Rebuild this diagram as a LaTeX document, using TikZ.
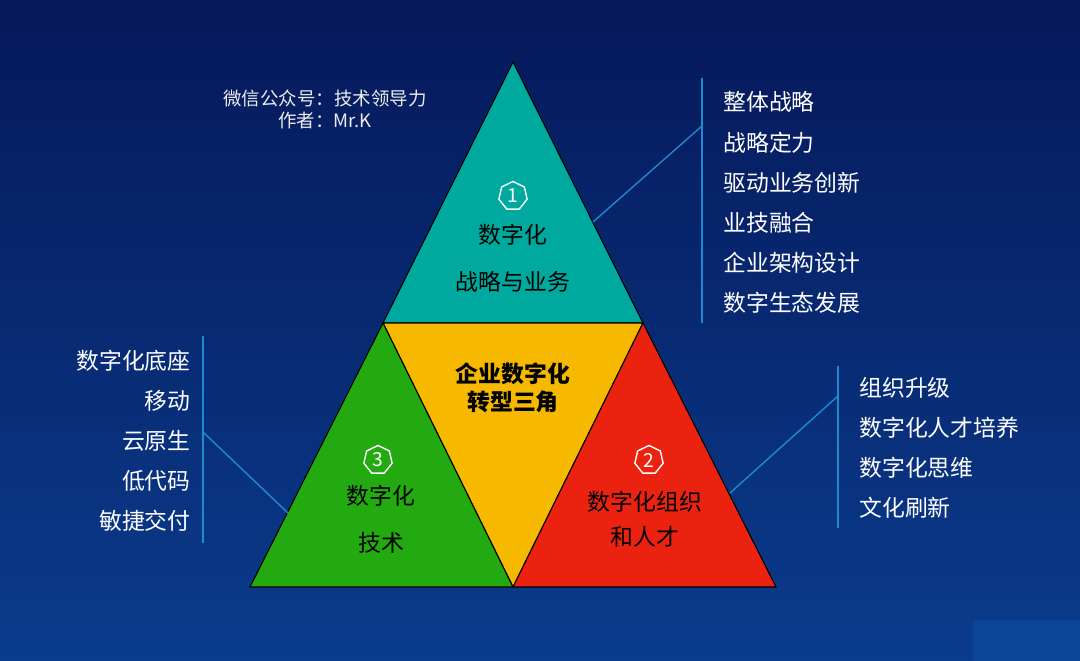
\documentclass[tikz,border=0pt]{standalone}
\usepackage{fontspec}
\newfontfamily\cjk{Noto Sans CJK SC}
\usetikzlibrary{shapes.geometric}
\definecolor{bgtop}{HTML}{06185A}
\definecolor{bgbot}{HTML}{0A3C8C}
\definecolor{teal}{HTML}{00A99D}
\definecolor{yel}{HTML}{F6B900}
\definecolor{grn}{HTML}{22AA10}
\definecolor{rd}{HTML}{EC2210}
\definecolor{ln}{HTML}{1E88D0}
\definecolor{patch}{HTML}{0C4596}
\tikzset{
 tri/.style={draw=black,line width=0.6pt},
 lbl/.style={font=\cjk\fontsize{13}{15}\selectfont,text=white,inner sep=0pt},
 inl/.style={font=\cjk\fontsize{13}{15}\selectfont,text=black,inner sep=0pt},
 num/.style={regular polygon,regular polygon sides=7,draw=white,line width=0.8pt,minimum size=0.58cm,inner sep=0pt,text=white,font=\cjk\fontsize{11}{11}\selectfont},
 conn/.style={draw=ln,line width=0.8pt},
 hdr/.style={font=\cjk\fontsize{10.5}{12}\selectfont,text=white!85!gray,inner sep=0pt}
}
\begin{document}
\begin{tikzpicture}[x=0.02cm,y=-0.02cm]
\useasboundingbox (0,0) rectangle (1080,661);
\shade[top color=bgtop,bottom color=bgbot] (0,0) rectangle (1080,661);
\fill[patch] (973,620) rectangle (1080,661);
% triangles
\filldraw[tri,fill=teal] (513,62) -- (383,323) -- (643,323) -- cycle;
\filldraw[tri,fill=yel] (383,323) -- (643,323) -- (513,587) -- cycle;
\filldraw[tri,fill=grn] (383,323) -- (250,587) -- (513,587) -- cycle;
\filldraw[tri,fill=rd] (643,323) -- (513,587) -- (776,587) -- cycle;
% inner texts
\node[num] (n1) at (513,196) {1};
\node[inl] (t1a) at (513,235) {数字化};
\node[inl] (t1b) at (513,282) {战略与业务};
\node[inl,font=\cjk\bfseries\fontsize{13}{15}\selectfont] (c1) at (513,374) {企业数字化};
\node[inl,font=\cjk\bfseries\fontsize{13}{15}\selectfont] (c2) at (513,402) {转型三角};
\node[num] (n3) at (378,460) {3};
\node[inl] (t3a) at (381,496) {数字化};
\node[inl] (t3b) at (381,543) {技术};
\node[num] (n2) at (649,460) {2};
\node[inl] (t2a) at (645,502) {数字化组织};
\node[inl] (t2b) at (645,537) {和人才};
% header
\node[hdr] (h1) at (325,98) {微信公众号：技术领导力};
\node[hdr] (h2) at (325,120) {作者：Mr.K};
% connectors
\coordinate (a1) at (593,222); \coordinate (a2) at (702,126);
\coordinate (a3) at (702,78); \coordinate (a4) at (702,323);
\draw[conn] (a1) -- (a2); \draw[conn] (a3) -- (a4);
\coordinate (b1) at (288,513); \coordinate (b2) at (203,432);
\coordinate (b3) at (203,336); \coordinate (b4) at (203,543);
\draw[conn] (b1) -- (b2); \draw[conn] (b3) -- (b4);
\coordinate (c1p) at (730,493); \coordinate (c2p) at (838,396);
\coordinate (c3p) at (838,366); \coordinate (c4p) at (838,528);
\draw[conn] (c1p) -- (c2p); \draw[conn] (c3p) -- (c4p);
% lists
\foreach \t [count=\i] in {整体战略,战略定力,驱动业务创新,业技融合,企业架构设计,数字生态发展}
  \node[lbl,anchor=west] (r\i) at (723,{62+40.2*\i}) {\t};
\foreach \t [count=\i] in {数字化底座,移动,云原生,低代码,敏捷交付}
  \node[lbl,anchor=east] (l\i) at (191,{321+40*\i}) {\t};
\foreach \t [count=\i] in {组织升级,数字化人才培养,数字化思维,文化刷新}
  \node[lbl,anchor=west] (s\i) at (859,{348+40*\i}) {\t};
\end{tikzpicture}
\end{document}
